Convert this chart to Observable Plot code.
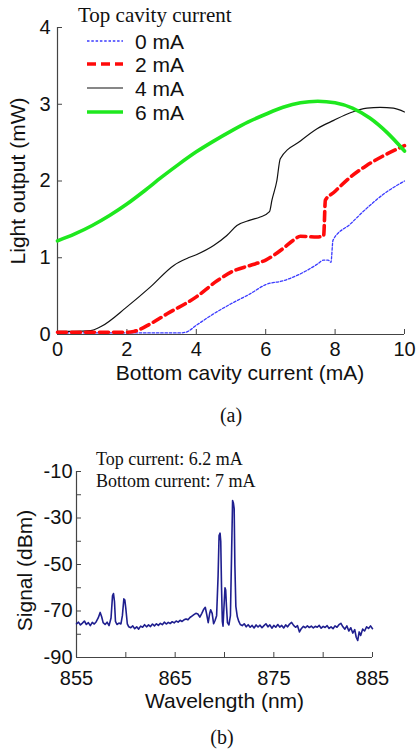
<!DOCTYPE html>
<html><head><meta charset="utf-8">
<script src="https://cdn.jsdelivr.net/npm/d3@7"></script>
<script src="https://cdn.jsdelivr.net/npm/@observablehq/plot@0.6"></script>
<style>
body{margin:0;background:#fff;}
#wrap{position:relative;width:417px;height:749px;overflow:hidden;background:#fff;font-family:"Liberation Sans",Arial,sans-serif;color:#111;}
.abs{position:absolute;white-space:nowrap;line-height:1;}
.serif{font-family:"Liberation Serif","Times New Roman",serif;}
.plot{position:absolute;left:0;}
</style></head><body><div id="wrap"></div>
<script>
// ---------- (a) Light output vs bottom cavity current ----------
const seriesLabels = ["0 mA", "2 mA", "4 mA", "6 mA"];
const bottom0 = [0, 1, 2, 3, 3.5, 3.7, 4.0, 4.5, 5.0, 5.55, 6.0, 6.5, 7.0, 7.5, 7.67, 7.8, 7.88, 7.94, 8.44, 8.9, 9.4, 10];
const light0  = [0.02, 0.02, 0.02, 0.02, 0.02, 0.03, 0.12, 0.27, 0.4, 0.53, 0.65, 0.7, 0.79, 0.92, 0.97, 0.97, 0.94, 1.23, 1.44, 1.64, 1.83, 2.0];
const bottom2 = [0, 1, 2, 2.2, 2.68, 3.16, 4.0, 4.6, 5.08, 5.55, 6.0, 6.5, 6.8, 7.0, 7.48, 7.67, 7.72, 7.96, 8.44, 8.9, 9.4, 10];
const light2  = [0.03, 0.03, 0.03, 0.04, 0.14, 0.27, 0.49, 0.7, 0.83, 0.9, 0.97, 1.12, 1.23, 1.28, 1.27, 1.29, 1.75, 1.85, 2.05, 2.2, 2.33, 2.46];
const bottom4 = [0, 0.5, 0.95, 1.24, 2.0, 2.68, 3.35, 3.73, 4.0, 4.5, 4.88, 5.17, 5.55, 5.84, 6.11, 6.18, 6.32, 6.42, 7.0, 7.48, 7.96, 8.44, 8.92, 9.3, 9.68, 10];
const light4  = [0.04, 0.04, 0.05, 0.1, 0.36, 0.62, 0.9, 0.99, 1.04, 1.16, 1.29, 1.42, 1.49, 1.53, 1.6, 1.75, 2.0, 2.29, 2.52, 2.68, 2.79, 2.89, 2.95, 2.96, 2.95, 2.9];
const bottom6 = [0, 0.5, 1.0, 1.5, 2.0, 2.5, 3.0, 3.5, 4.0, 4.5, 5.0, 5.5, 6.0, 6.5, 7.0, 7.5, 8.0, 8.5, 9.0, 9.5, 10];
const light6  = [1.22, 1.31, 1.42, 1.55, 1.70, 1.87, 2.05, 2.22, 2.38, 2.52, 2.65, 2.77, 2.87, 2.96, 3.02, 3.04, 3.02, 2.95, 2.82, 2.63, 2.39];
const xTicksA = [0, 2, 4, 6, 8, 10];
const yTicksA = [0, 1, 2, 3, 4];

// ---------- (b) Spectrum ----------
const wavelength = [855.0,855.2,855.4,855.6,855.8,856.0,856.2,856.4,856.6,856.8,857.0,857.2,857.4,857.55,857.7,857.9,858.1,858.3,858.5,858.65,858.75,858.85,858.95,859.1,859.3,859.5,859.65,859.8,859.9,860.0,860.15,860.3,860.5,860.7,860.9,861.1,861.3,861.5,861.7,861.9,862.1,862.3,862.5,862.7,862.9,863.1,863.3,863.5,863.7,863.9,864.1,864.3,864.5,864.7,864.9,865.1,865.3,865.5,865.7,865.9,866.1,866.3,866.5,866.7,866.9,867.1,867.3,867.5,867.7,867.9,868.05,868.2,868.35,868.5,868.6,868.75,868.9,869.05,869.2,869.35,869.45,869.55,869.62,869.7,869.78,869.85,869.95,870.05,870.12,870.2,870.3,870.45,870.6,870.72,870.82,870.9,870.98,871.05,871.15,871.3,871.45,871.6,871.8,872.0,872.2,872.4,872.6,872.8,873.0,873.2,873.4,873.6,873.8,874.0,874.2,874.4,874.6,874.8,875.0,875.2,875.4,875.6,875.8,876.0,876.2,876.4,876.6,876.8,877.0,877.2,877.4,877.6,877.8,878.0,878.2,878.4,878.6,878.8,879.0,879.2,879.4,879.6,879.8,880.0,880.2,880.4,880.6,880.8,881.0,881.2,881.4,881.6,881.8,882.0,882.2,882.4,882.6,882.8,883.0,883.2,883.35,883.5,883.65,883.8,884.0,884.2,884.4,884.6,884.8,885.0];
const signal = [-75.5,-74.8,-76.0,-75.2,-74.3,-75.8,-75.0,-76.3,-74.9,-75.6,-74.6,-73.0,-70.6,-72.5,-75.0,-75.8,-74.8,-76.3,-73.0,-63.5,-62.5,-66.0,-74.5,-75.8,-75.2,-75.6,-72.0,-64.8,-65.3,-69.0,-75.5,-76.8,-77.2,-76.4,-77.6,-76.8,-77.8,-76.5,-77.0,-75.9,-76.8,-76.0,-76.7,-75.6,-76.4,-75.5,-76.2,-75.3,-75.9,-74.8,-75.6,-74.9,-75.4,-74.6,-75.1,-74.3,-74.8,-74.0,-74.5,-73.8,-73.4,-73.8,-72.8,-72.2,-71.6,-71.0,-71.3,-72.6,-71.0,-69.2,-68.4,-71.5,-75.0,-71.0,-69.5,-71.0,-75.5,-74.0,-72.0,-55.0,-37.5,-36.5,-40.0,-60.0,-74.5,-76.5,-68.0,-60.0,-61.0,-68.0,-75.0,-76.0,-72.0,-45.0,-22.5,-23.5,-26.0,-50.0,-68.0,-72.5,-74.5,-75.8,-76.3,-75.5,-76.8,-75.9,-77.0,-76.2,-77.3,-76.0,-76.9,-76.1,-77.2,-76.3,-75.5,-76.8,-76.0,-77.4,-76.2,-77.0,-75.8,-76.9,-76.2,-77.3,-76.0,-76.8,-75.6,-74.9,-76.2,-77.0,-76.3,-79.0,-77.5,-76.6,-77.2,-76.4,-77.1,-76.5,-77.3,-76.6,-77.0,-76.2,-77.4,-76.6,-77.1,-76.3,-77.5,-76.8,-77.6,-76.4,-77.0,-75.9,-75.3,-76.8,-77.8,-76.4,-78.6,-77.2,-79.5,-78.0,-81.3,-82.7,-79.0,-80.5,-77.8,-78.6,-76.8,-77.5,-76.4,-77.6];
const xTicksB = [855, 860, 865, 870, 875, 880, 885];
const xLabelsB = [855, 865, 875, 885];
const yTicksB = [-90, -80, -70, -60, -50, -40, -30, -20, -10];
const yLabelsB = [-90, -70, -50, -30, -10];

const wrap = document.getElementById("wrap");
const font = "Liberation Sans, Arial, sans-serif";
const toRows = (xs, ys) => xs.map((x, i) => ({x, y: ys[i]}));

const styles = [
  {stroke: "#3b3bff", strokeWidth: 1.3, strokeDasharray: "2.5,1.8"},
  {stroke: "#ff0a0a", strokeWidth: 3.6, strokeDasharray: "9,5"},
  {stroke: "#111111", strokeWidth: 1.2},
  {stroke: "#1ee81e", strokeWidth: 3.6}
];
const seriesData = [toRows(bottom0, light0), toRows(bottom2, light2), toRows(bottom4, light4), toRows(bottom6, light6)];

const plotA = Plot.plot({
  width: 417, height: 395,
  marginTop: 27, marginBottom: 61, marginLeft: 57, marginRight: 13,
  style: {fontFamily: font, fontSize: "20px", color: "#111", background: "transparent", overflow: "visible"},
  x: {domain: [0, 10]},
  y: {domain: [0, 4]},
  marks: [
    Plot.axisX({ticks: xTicksA, tickSize: 5, dy: -5, tickPadding: 7, tickFormat: d => String(d), label: null, stroke: "#444"}),
    Plot.axisY({ticks: yTicksA, tickSize: 5, dx: 5, tickPadding: 7, tickFormat: d => String(d), label: null, stroke: "#444"}),
    Plot.ruleX([0], {stroke: "#444", strokeWidth: 1.2}),
    Plot.ruleY([0], {stroke: "#444", strokeWidth: 1.2}),
    ...[2, 0, 1, 3].map(k => Plot.line(seriesData[k], {x: "x", y: "y", curve: "monotone-x", ...styles[k]})),
    Plot.text(["Bottom cavity current (mA)"], {frameAnchor: "bottom", dx: 9, dy: 45, fontSize: 21, fill: "#111"}),
    Plot.text(["Light output (mW)"], {frameAnchor: "left", textAnchor: "middle", dx: -39, rotate: -90, fontSize: 21, fill: "#111"})
  ]
});
plotA.classList.add("plot");
plotA.style.top = "0px";
wrap.appendChild(plotA);

const plotB = Plot.plot({
  width: 417, height: 290,
  marginTop: 41, marginBottom: 63, marginLeft: 76, marginRight: 45,
  style: {fontFamily: font, fontSize: "20px", color: "#111", background: "transparent", overflow: "visible"},
  x: {domain: [855, 885]},
  y: {domain: [-90, -10]},
  marks: [
    Plot.axisX({ticks: xTicksB, tickSize: 5, dy: -5, tickPadding: 13, tickFormat: d => xLabelsB.includes(d) ? String(d) : "", label: null, stroke: "#444"}),
    Plot.axisY({ticks: yTicksB, tickSize: 5, dx: 5, tickPadding: 4, tickFormat: d => yLabelsB.includes(d) ? String(d) : "", label: null, stroke: "#444"}),
    Plot.ruleX([855], {stroke: "#444", strokeWidth: 1.2}),
    Plot.ruleY([-90], {stroke: "#444", strokeWidth: 1.2}),
    Plot.line(toRows(wavelength, signal), {x: "x", y: "y", stroke: "#1f1f8f", strokeWidth: 1.6}),
    Plot.text(["Wavelength (nm)"], {frameAnchor: "bottom", dy: 50, fontSize: 21, fill: "#111"}),
    Plot.text(["Signal (dBm)"], {frameAnchor: "left", textAnchor: "middle", dx: -51, dy: 6, rotate: -90, fontSize: 21, fill: "#111"})
  ]
});
plotB.classList.add("plot");
plotB.style.top = "430px";
wrap.appendChild(plotB);

// ---------- HTML overlays: legend, annotations, captions ----------
function addText(txt, left, cy, size, cls, anchor) {
  const d = document.createElement("div");
  d.className = "abs " + (cls || "");
  d.textContent = txt;
  d.style.fontSize = size + "px";
  d.style.top = (cy - size / 2) + "px";
  d.style.left = left + "px";
  if (anchor === "middle") d.style.transform = "translateX(-50%)";
  wrap.appendChild(d);
  return d;
}
addText("Top cavity current", 78, 15, 21, "serif");
const rowsY = [41, 64, 88, 112];
seriesLabels.forEach((lab, k) => {
  const ns = "http://www.w3.org/2000/svg";
  const s = document.createElementNS(ns, "svg");
  s.setAttribute("width", 40); s.setAttribute("height", 10);
  s.style.position = "absolute"; s.style.left = "85px"; s.style.top = (rowsY[k] - 5) + "px";
  const l = document.createElementNS(ns, "line");
  l.setAttribute("x1", 2); l.setAttribute("x2", 38); l.setAttribute("y1", 5); l.setAttribute("y2", 5);
  l.setAttribute("stroke", styles[k].stroke); l.setAttribute("stroke-width", styles[k].strokeWidth);
  if (styles[k].strokeDasharray) l.setAttribute("stroke-dasharray", styles[k].strokeDasharray);
  s.appendChild(l); wrap.appendChild(s);
  addText(lab, 135, rowsY[k], 21, "");
});
addText("(a)", 231, 415, 20, "serif", "middle");
addText("Top current: 6.2 mA", 96, 459, 18, "serif");
addText("Bottom current: 7 mA", 96, 481, 18, "serif");
addText("(b)", 222, 737, 20, "serif", "middle");
</script></body></html>
